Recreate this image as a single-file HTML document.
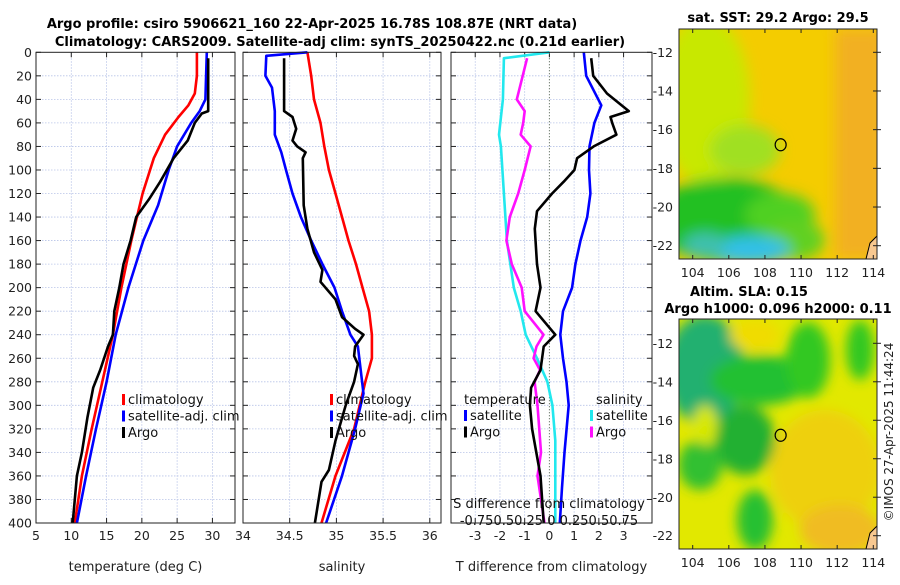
<!DOCTYPE html>
<html><head><meta charset="utf-8">
<style>
body{margin:0;background:#fff;}
svg text{font-family:"DejaVu Sans","Liberation Sans",sans-serif;}
</style></head>
<body>
<svg id="fig" width="900" height="580" viewBox="0 0 900 580" xmlns="http://www.w3.org/2000/svg">
<defs>
<filter id="blur1" x="-20%" y="-20%" width="140%" height="140%"><feGaussianBlur stdDeviation="7"/></filter>
<filter id="blur2" x="-20%" y="-20%" width="140%" height="140%"><feGaussianBlur stdDeviation="6"/></filter>
<clipPath id="clipM1"><rect x="679" y="29" width="198" height="230"/></clipPath>
<clipPath id="clipM2"><rect x="679" y="319" width="198" height="230"/></clipPath>
</defs>
<rect width="900" height="580" fill="#fff"/>
<text x="312" y="28" font-size="13" font-weight="bold" text-anchor="middle">Argo profile: csiro 5906621_160 22-Apr-2025 16.78S 108.87E (NRT data)</text>
<text x="340" y="46" font-size="13" font-weight="bold" text-anchor="middle">Climatology: CARS2009. Satellite-adj clim: synTS_20250422.nc (0.21d earlier)</text>

<g id="maps">
<text x="778" y="22" font-size="13" font-weight="bold" text-anchor="middle">sat. SST: 29.2 Argo: 29.5</text>
<g clip-path="url(#clipM1)">
<rect x="679" y="29" width="198" height="230" fill="#f4cc00"/>
<g filter="url(#blur1)">
<rect x="835" y="29" width="50" height="230" fill="#f2b020"/>
<ellipse cx="705" cy="100" rx="45" ry="85" fill="#c8e800"/>
<ellipse cx="745" cy="150" rx="35" ry="25" fill="#a0e020"/>
<ellipse cx="725" cy="220" rx="75" ry="42" fill="#20c020"/>
<ellipse cx="780" cy="215" rx="35" ry="22" fill="#50d020"/>
<ellipse cx="795" cy="240" rx="30" ry="20" fill="#60d020"/>
<ellipse cx="750" cy="250" rx="40" ry="14" fill="#30c0e8"/>
<ellipse cx="705" cy="245" rx="22" ry="12" fill="#40c0b0"/>
</g>
<polygon points="866,259 870,243 877,236 877,259" fill="#f8c890" stroke="#000" stroke-width="1"/>
</g>
<rect x="679" y="29" width="198" height="230" fill="none" stroke="#222" stroke-width="1"/>
<g font-size="12.5" fill="#222" text-anchor="end">
<text x="673" y="57">-12</text><text x="673" y="95.5">-14</text><text x="673" y="134">-16</text><text x="673" y="173">-18</text><text x="673" y="211.5">-20</text><text x="673" y="250">-22</text>
</g>
<text x="749" y="296" font-size="13" font-weight="bold" text-anchor="middle">Altim. SLA: 0.15</text>
<text x="778" y="313" font-size="13" font-weight="bold" text-anchor="middle">Argo h1000: 0.096 h2000: 0.11</text>
<g clip-path="url(#clipM2)">
<rect x="679" y="319" width="198" height="230" fill="#e2e800"/>
<g filter="url(#blur2)">
<ellipse cx="825" cy="470" rx="55" ry="60" fill="#eed010"/>
<ellipse cx="840" cy="530" rx="40" ry="25" fill="#f0bc20"/>
<ellipse cx="705" cy="370" rx="40" ry="55" fill="#20b070"/>
<ellipse cx="760" cy="380" rx="50" ry="25" fill="#20c030"/>
<ellipse cx="808" cy="360" rx="22" ry="38" fill="#30c820"/>
<ellipse cx="745" cy="440" rx="30" ry="35" fill="#20b030"/>
<ellipse cx="700" cy="465" rx="22" ry="25" fill="#30c030"/>
<ellipse cx="755" cy="520" rx="18" ry="30" fill="#28c030"/>
<ellipse cx="860" cy="350" rx="14" ry="30" fill="#30c820"/>
<ellipse cx="755" cy="335" rx="25" ry="16" fill="#f0dc00"/>
<ellipse cx="705" cy="425" rx="12" ry="20" fill="#d8e800"/>
</g>
<polygon points="866,549 870,533 877,526 877,549" fill="#f8c890" stroke="#000" stroke-width="1"/>
</g>
<rect x="679" y="319" width="198" height="230" fill="none" stroke="#222" stroke-width="1"/>
<g font-size="12.5" fill="#222" text-anchor="end">
<text x="673" y="348">-12</text><text x="673" y="386.5">-14</text><text x="673" y="425">-16</text><text x="673" y="463.5">-18</text><text x="673" y="502">-20</text><text x="673" y="540">-22</text>
</g>
<text transform="translate(893,432) rotate(-90)" font-size="12" text-anchor="middle" fill="#222">©IMOS 27-Apr-2025 11:44:24</text>
</g>
<g id="plots"></g>
</svg>
<script>
// ---- data ----
const tClimDepth=[0,20,35,45,55,70,90,120,160,200,240,280,320,360,400];
const tClimVal=[27.8,27.8,27.5,26.6,25.2,23.3,21.7,20.1,18.5,17.1,15.9,14.4,12.9,11.5,10.5];
const tSatDepth=[0,40,50,60,80,100,130,160,200,240,280,320,360,400];
const tSatVal=[29.2,29.0,28.2,27.0,25.0,23.8,22.3,20.2,18.1,16.3,15.0,13.5,12.1,10.8];
const tArgoDepth=[5,50,52,60,75,90,110,125,140,160,180,200,220,240,250,270,285,310,340,360,380,400];
const tArgoVal=[29.4,29.4,28.5,27.5,26.5,24.5,22.6,21.0,19.2,18.4,17.4,16.8,16.1,15.9,15.2,14.1,13.1,12.3,11.5,10.8,10.5,10.2];
const sClimDepth=[0,20,40,60,80,100,120,140,160,180,200,220,240,260,280,320,360,400];
const sClimVal=[34.69,34.73,34.76,34.83,34.87,34.92,34.99,35.06,35.13,35.21,35.28,35.35,35.38,35.38,35.31,35.19,34.99,34.84];
const sSatDepth=[0,3,20,30,50,70,85,100,120,140,160,180,200,220,240,250,270,290,320,360,400];
const sSatVal=[34.69,34.25,34.24,34.31,34.34,34.34,34.41,34.46,34.53,34.62,34.73,34.85,34.98,35.06,35.15,35.23,35.26,35.29,35.20,35.06,34.89];
const sArgoDepth=[5,50,55,65,75,80,85,90,130,150,170,185,195,210,225,235,240,250,258,265,280,300,330,355,365,400];
const sArgoVal=[34.44,34.44,34.53,34.57,34.53,34.58,34.67,34.64,34.65,34.69,34.76,34.85,34.83,34.99,35.06,35.2,35.29,35.2,35.19,35.23,35.19,35.1,34.99,34.92,34.84,34.77];
const dTSatDepth=[0,20,45,60,80,100,120,140,160,180,200,220,240,260,280,300,340,370,400];
const dTSatVal=[1.39,1.49,2.1,1.82,1.62,1.6,1.66,1.53,1.26,1.05,0.92,0.55,0.44,0.55,0.69,0.78,0.61,0.51,0.42];
const dTArgoDepth=[5,20,35,50,55,60,70,80,90,100,110,120,135,150,180,200,220,240,250,270,285,300,320,360,400];
const dTArgoVal=[1.69,1.77,2.33,3.21,2.47,2.54,2.71,1.79,1.12,1.01,0.58,0.11,-0.5,-0.59,-0.5,-0.36,-0.56,0.24,-0.23,-0.36,-0.74,-0.79,-0.7,-0.36,-0.23];
const dSSatDepth=[0,5,40,70,80,120,160,200,220,240,260,280,300,330,400];
const dSSatVal=[0,-0.46,-0.47,-0.51,-0.49,-0.46,-0.43,-0.36,-0.29,-0.24,-0.125,-0.02,0.03,0.06,0.06];
const dSArgoDepth=[5,40,50,60,70,80,100,120,140,160,180,200,220,240,250,260,270,280,300,340,360,400];
const dSArgoVal=[-0.225,-0.33,-0.25,-0.265,-0.29,-0.19,-0.25,-0.315,-0.4,-0.435,-0.38,-0.28,-0.25,-0.06,-0.13,-0.16,-0.095,-0.15,-0.12,-0.085,-0.12,-0.05];
const depthTicks=[0,20,40,60,80,100,120,140,160,180,200,220,240,260,280,300,320,340,360,380,400];
const tTicks=[5,10,15,20,25,30];
const sTicks=[34,34.5,35,35.5,36];
const dTTicks=[-3,-2,-1,0,1,2,3];
const lonTicks=[104,106,108,110,112,114];
const latTicks=[-12,-14,-16,-18,-20,-22];

const NS="http://www.w3.org/2000/svg";
const root=document.getElementById('plots');
function mk(tag,attrs,parent){const e=document.createElementNS(NS,tag);for(const k in attrs)e.setAttribute(k,attrs[k]);(parent||root).appendChild(e);return e;}
const Y0=52.3,Y1=523;
function yDepth(d){return Y0+(Y1-Y0)*d/400;}

const panels=[
 {name:'temperature',x0:36,x1:235,min:5,max:33.2,ticks:tTicks,label:'temperature (deg C)',leftLabels:true},
 {name:'salinity',x0:243,x1:441,min:34,max:36.12,ticks:sTicks,label:'salinity'},
 {name:'difference',x0:451,x1:652,min:-3.98,max:4.15,ticks:dTTicks,label:'T difference from climatology'}
];
function xs(p,v){return p.x0+(p.x1-p.x0)*(v-p.min)/(p.max-p.min);}

panels.forEach((p,pi)=>{
 const g=mk('g',{});
 
 
 depthTicks.forEach(d=>{
  const y=yDepth(d);
  if(d>0&&d<400){const gl=mk('line',{x1:p.x0,x2:p.x1,y1:y,y2:y,stroke:'#b8c4e8','stroke-width':0.8,'stroke-dasharray':'1.5,1.5'},g);
   }
  mk('line',{x1:p.x0,x2:p.x0+5,y1:y,y2:y,stroke:'#222'},g);
  mk('line',{x1:p.x1-5,x2:p.x1,y1:y,y2:y,stroke:'#222'},g);
  if(p.leftLabels){const t=mk('text',{x:p.x0-4,y:y+4.5,'font-size':12.5,'text-anchor':'end',fill:'#222'},g);t.textContent=d;
   }
 });
 p.ticks.forEach(v=>{
  const x=xs(p,v);
  const isZero=(pi===2&&v===0);
  if(x>p.x0+1&&x<p.x1-1){const gl=mk('line',{x1:x,x2:x,y1:Y0,y2:Y1,stroke:isZero?'#445544':'#b8c4e8','stroke-width':isZero?1:0.8,'stroke-dasharray':isZero?'1,2':'1.5,1.5'},g);
   }
  mk('line',{x1:x,x2:x,y1:Y1,y2:Y1-5,stroke:'#222'},g);
  mk('line',{x1:x,x2:x,y1:Y0,y2:Y0+5,stroke:'#222'},g);
  const t=mk('text',{x:x,y:Y1+17,'font-size':12.5,'text-anchor':'middle',fill:'#222'},g);t.textContent=v;
  
 });
 const al=mk('text',{x:(p.x0+p.x1)/2,y:571,'font-size':13,'text-anchor':'middle',fill:'#222'},g);al.textContent=p.label;
 
 p.g=g;
});

function mapAxes(my0,lat12,lat22){
 const lonX=v=>692.7+(v-104)*18.06;
 lonTicks.forEach(v=>{
  const x=lonX(v);mk('line',{x1:x,x2:x,y1:my0+230,y2:my0+226,stroke:'#222'});mk('line',{x1:x,x2:x,y1:my0,y2:my0+4,stroke:'#222'});
  const t=mk('text',{x:x,y:my0+248,'font-size':12.5,'text-anchor':'middle',fill:'#222'});t.textContent=v;
  
 });
 latTicks.forEach(v=>{
  const y=lat12+(lat22-lat12)*(-12-v)/10;
  mk('line',{x1:877,x2:873,y1:y,y2:y,stroke:'#222'});mk('line',{x1:877,x2:881,y1:y,y2:y,stroke:'#222'});
 });
 const c=mk('ellipse',{cx:692.7+(108.87-104)*18.06,cy:lat12+(lat22-lat12)*(16.78-12)/10,rx:5.5,ry:6,fill:'none',stroke:'#000','stroke-width':1.2});
 
}
mapAxes(29,52.3,245.7);
mapAxes(319,343.3,535.7);

function series(p,depths,vals,color,name,scale){
 const pts=depths.map((d,i)=>xs(p,vals[i]*(scale||1)).toFixed(1)+','+yDepth(d).toFixed(1)).join(' ');
 const pl=mk('polyline',{points:pts,fill:'none',stroke:color,'stroke-width':2.6,'stroke-linejoin':'round'},p.g);
 
 
}
series(panels[0],tClimDepth,tClimVal,'#ff0000','temp-climatology-line');
series(panels[0],tSatDepth,tSatVal,'#0000ff','temp-satellite-line');
series(panels[0],tArgoDepth,tArgoVal,'#000000','temp-argo-line');
series(panels[1],sClimDepth,sClimVal,'#ff0000','sal-climatology-line');
series(panels[1],sSatDepth,sSatVal,'#0000ff','sal-satellite-line');
series(panels[1],sArgoDepth,sArgoVal,'#000000','sal-argo-line');
series(panels[2],dSSatDepth,dSSatVal,'#22e8ee','sdiff-satellite-line',4);
series(panels[2],dSArgoDepth,dSArgoVal,'#ff10ff','sdiff-argo-line',4);
series(panels[2],dTSatDepth,dTSatVal,'#0000ff','tdiff-satellite-line');
series(panels[2],dTArgoDepth,dTArgoVal,'#000000','tdiff-argo-line');

panels.forEach(p=>{mk('rect',{x:p.x0,y:Y0,width:p.x1-p.x0,height:Y1-Y0,fill:'none',stroke:'#222','stroke-width':1},p.g);});

function legend(p,x,y,items,title){
 if(title){const t=mk('text',{x:x,y:y-16,'font-size':13,fill:'#111'},p.g);t.textContent=title;
  }
 items.forEach((it,i)=>{
  const yy=y+i*16.5;
  mk('rect',{x:x,y:yy-10,width:3,height:11,fill:it[1]},p.g);
  const t=mk('text',{x:x+6,y:yy,'font-size':13,fill:'#111'},p.g);t.textContent=it[0];
  
 });
}
legend(panels[0],122,404,[['climatology','#ff0000'],['satellite-adj. clim','#0000ff'],['Argo','#000']]);
legend(panels[1],330,404,[['climatology','#ff0000'],['satellite-adj. clim','#0000ff'],['Argo','#000']]);
legend(panels[2],464,420,[['satellite','#0000ff'],['Argo','#000']],'temperature');
legend(panels[2],590,420,[['satellite','#22e8ee'],['Argo','#ff10ff']]);
(function(){const t=mk('text',{x:596,y:404,'font-size':13,fill:'#111'},panels[2].g);t.textContent='salinity';
 })();
(function(){
 const p=panels[2];
 const t=mk('text',{x:549,y:508,'font-size':13,'text-anchor':'middle',fill:'#111'},p.g);t.textContent='S difference from climatology';
 
 const t2=mk('text',{x:549,y:525,'font-size':13,'text-anchor':'middle',fill:'#111'},p.g);t2.textContent='-0.750.50.25 0 0.250.50.75';
 
})();
</script>
</body></html>
